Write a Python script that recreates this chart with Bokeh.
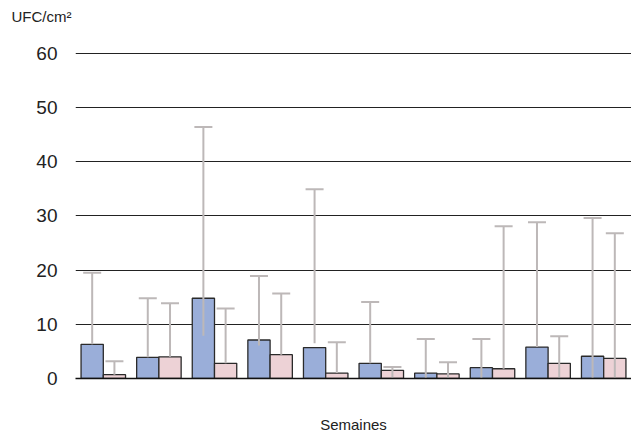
import numpy as np
from bokeh.plotting import figure
from bokeh.models import Range1d, FixedTicker, Title
from bokeh.embed import file_html
from bokeh.resources import INLINE

weeks = [1, 2, 3, 4, 5, 6, 7, 8, 9, 10]
blue_vals = [6.3, 3.9, 14.8, 7.1, 5.7, 2.8, 1.0, 2.0, 5.8, 4.1]
blue_lo = [6.3, 3.9, 7.9, 6.1, 6.5, 2.8, 0.0, 0.0, 5.8, 0.0]
blue_hi = [19.5, 14.8, 46.4, 18.9, 34.9, 14.1, 7.3, 7.3, 28.8, 29.6]
pink_vals = [0.7, 4.0, 2.8, 4.4, 1.0, 1.5, 0.85, 1.8, 2.8, 3.7]
pink_lo = [0.7, 4.0, 2.8, 4.4, 1.0, 0.0, 0.0, 1.8, 0.0, 0.0]
pink_hi = [3.2, 13.9, 12.9, 15.7, 6.7, 2.1, 3.0, 28.1, 7.8, 26.8]
y_ticks = [0, 10, 20, 30, 40, 50, 60]

FONT = "Liberation Sans"
BLUE = "#9aaed9"
PINK = "#edd2d6"
WHISK = "#bdb8b8"

p = figure(frame_width=556, frame_height=328, min_border_left=75, min_border_right=0,
           min_border_top=50, min_border_bottom=56,
           x_range=Range1d(0.5, 10.5), y_range=Range1d(0, 60.5),
           output_backend="svg", toolbar_location=None)
p.title_location = None
p.outline_line_color = None
p.background_fill_color = "white"

wk = np.array(weeks, dtype=float)
xb = wk - 0.2
xp = wk + 0.2

p.vbar(x=xb, top=blue_vals, bottom=0, width=0.4, fill_color=BLUE,
       line_color="#2a2a2a", line_width=1.3)
p.vbar(x=xp, top=pink_vals, bottom=0, width=0.4, fill_color=PINK,
       line_color="#2a2a2a", line_width=1.3)

for xs, lo, hi in ((xb, blue_lo, blue_hi), (xp, pink_lo, pink_hi)):
    p.segment(x0=xs, y0=lo, x1=xs, y1=hi, line_color=WHISK, line_width=2)
    p.scatter(x=xs, y=hi, marker="dash", size=18, line_color=WHISK, line_width=2)

p.xgrid.grid_line_color = None
p.ygrid.ticker = FixedTicker(ticks=y_ticks)
p.ygrid.grid_line_color = "#222222"
p.ygrid.grid_line_width = 1

p.yaxis.ticker = FixedTicker(ticks=y_ticks)
p.yaxis.axis_line_color = None
p.yaxis.major_tick_line_color = None
p.yaxis.minor_tick_line_color = None
p.yaxis.major_label_standoff = 12
p.yaxis.major_label_text_font = FONT
p.yaxis.major_label_text_font_size = "19px"
p.yaxis.major_label_text_color = "#222222"

p.xaxis.ticker = FixedTicker(ticks=[])
p.xaxis.axis_line_color = "#111111"
p.xaxis.axis_line_width = 1.3
p.xaxis.major_tick_line_color = None
p.xaxis.minor_tick_line_color = None
p.xaxis.major_label_text_font_size = "0px"
p.xaxis.major_label_standoff = 0
p.xaxis.axis_label = "Semaines"
p.xaxis.axis_label_text_font = FONT
p.xaxis.axis_label_text_font_size = "15px"
p.xaxis.axis_label_text_font_style = "normal"
p.xaxis.axis_label_text_color = "#222222"
p.xaxis.axis_label_standoff = 37

# spacer nearest the frame, then the unit label above it
p.add_layout(Title(text=" ", text_font_size="10px", standoff=11), "above")
p.add_layout(Title(text="UFC/cm²", align="left", offset=-64, vertical_align="top",
                   text_font=FONT, text_font_size="15px", text_font_style="normal",
                   text_color="#222222", standoff=0), "above")

open("out.html", "w").write(file_html(p, INLINE))
